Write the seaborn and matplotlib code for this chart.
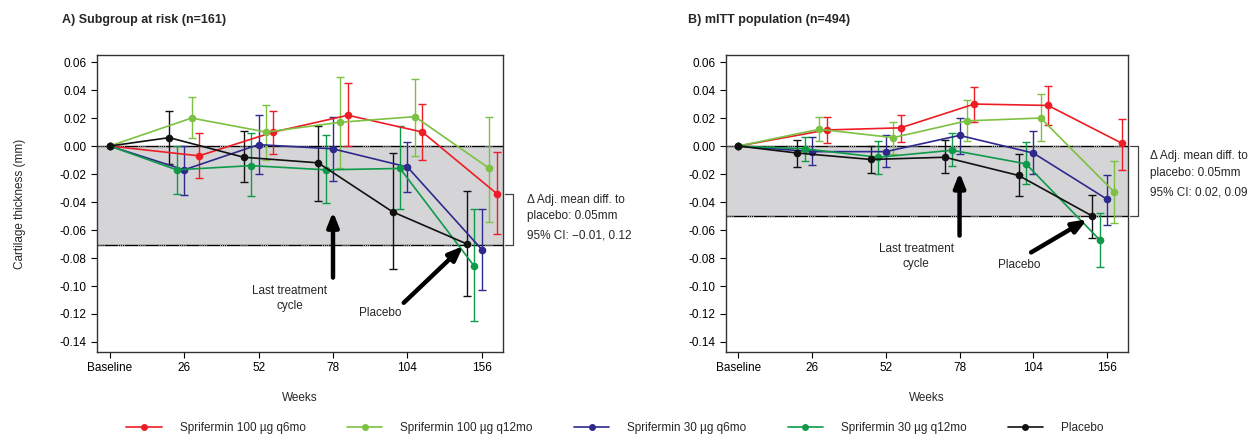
import numpy as np
import pandas as pd
import matplotlib
matplotlib.use("Agg")
import matplotlib.pyplot as plt
import matplotlib.transforms as mtransforms
import seaborn as sns

# x categories
week_labels = ["Baseline", "26", "52", "78", "104", "156"]
groups = ["Sprifermin 100 µg q6mo", "Sprifermin 100 µg q12mo",
          "Sprifermin 30 µg q6mo", "Sprifermin 30 µg q12mo", "Placebo"]
colors = ["#ee1c25", "#7cc142", "#2e2a8c", "#0f9a4a", "#111111"]
dodge = [0.2, 0.1, 0.0, -0.1, -0.2]

# Panel A: subgroup at risk (n=161)
a_mean = {
    groups[0]: [0, -0.007, 0.010, 0.022, 0.010, -0.034],
    groups[1]: [0, 0.020, 0.010, 0.017, 0.021, -0.016],
    groups[2]: [0, -0.017, 0.001, -0.002, -0.015, -0.074],
    groups[3]: [0, -0.017, -0.014, -0.017, -0.016, -0.086],
    groups[4]: [0, 0.006, -0.008, -0.012, -0.047, -0.070],
}
a_lo = {
    groups[0]: [0, -0.023, -0.006, 0.000, -0.010, -0.063],
    groups[1]: [0, 0.006, -0.010, -0.016, -0.007, -0.054],
    groups[2]: [0, -0.035, -0.020, -0.025, -0.033, -0.103],
    groups[3]: [0, -0.034, -0.036, -0.041, -0.045, -0.125],
    groups[4]: [0, -0.013, -0.026, -0.039, -0.088, -0.107],
}
a_hi = {
    groups[0]: [0, 0.009, 0.025, 0.045, 0.030, -0.004],
    groups[1]: [0, 0.035, 0.029, 0.049, 0.048, 0.021],
    groups[2]: [0, 0.000, 0.022, 0.021, 0.003, -0.045],
    groups[3]: [0, 0.000, 0.009, 0.008, 0.014, -0.045],
    groups[4]: [0, 0.025, 0.011, 0.014, -0.005, -0.032],
}

# Panel B: mITT population (n=494)
b_mean = {
    groups[0]: [0, 0.0115, 0.013, 0.030, 0.029, 0.002],
    groups[1]: [0, 0.012, 0.006, 0.018, 0.020, -0.033],
    groups[2]: [0, -0.004, -0.004, 0.0076, -0.005, -0.038],
    groups[3]: [0, -0.002, -0.008, -0.003, -0.0127, -0.067],
    groups[4]: [0, -0.005, -0.0096, -0.008, -0.021, -0.050],
}
b_lo = {
    groups[0]: [0, 0.002, 0.003, 0.017, 0.015, -0.017],
    groups[1]: [0, 0.0036, -0.006, 0.0033, 0.0036, -0.055],
    groups[2]: [0, -0.0136, -0.015, -0.0055, -0.020, -0.0565],
    groups[3]: [0, -0.0105, -0.020, -0.014, -0.027, -0.0864],
    groups[4]: [0, -0.015, -0.019, -0.019, -0.036, -0.0656],
}
b_hi = {
    groups[0]: [0, 0.021, 0.022, 0.0425, 0.043, 0.0195],
    groups[1]: [0, 0.021, 0.017, 0.033, 0.037, -0.011],
    groups[2]: [0, 0.0067, 0.008, 0.020, 0.011, -0.021],
    groups[3]: [0, 0.0067, 0.0033, 0.009, 0.003, -0.048],
    groups[4]: [0, 0.004, 0.000, 0.004, -0.0055, -0.035],
}

sns.set_style("ticks")
plt.rcParams['font.family'] = ['Liberation Sans', 'DejaVu Sans']
plt.rcParams['font.size'] = 8.5

fig = plt.figure(figsize=(12.6, 4.37), dpi=100)
axA = fig.add_axes([0.077, 0.195, 0.322, 0.679])
axB = fig.add_axes([0.576, 0.195, 0.319, 0.679])


def draw_panel(ax, means, los, his, placebo_diff, title, title_x, text_lines,
               text_y, arrow_tc, tc_text, arrow_pl, pl_text, bracket_top,
               text_x):
    ax.axhspan(placebo_diff, 0, color="#d5d5d8", zorder=0, lw=0)
    for yv in (0, placebo_diff):
        ax.axhline(yv, color="black", lw=1.0, zorder=1)
        ax.axhline(yv, color="white", lw=0.6, zorder=1.1,
                   linestyle=(0, (1, 1.5, 1, 1.5, 1, 1.5, 1, 16)))
    rows = []
    for g, off in zip(groups, dodge):
        for i in range(len(week_labels)):
            xi = i + (off if i > 0 else 0)
            rows.append(dict(group=g, x=xi, y=means[g][i],
                             lo=los[g][i], hi=his[g][i]))
    df = pd.DataFrame(rows)
    sns.lineplot(data=df, x="x", y="y", hue="group", hue_order=groups,
                 palette=colors, marker="o", markersize=5.5,
                 markeredgewidth=0, lw=1.2, ax=ax, legend=False,
                 zorder=3, estimator=None, sort=False)
    for g, c in zip(groups, colors):
        d = df[(df.group == g) & (df.x > 0.5)]
        ax.errorbar(d.x, d.y, yerr=[d.y - d.lo, d.hi - d.y], fmt="none",
                    ecolor=c, elinewidth=1.0, capsize=3, capthick=1.0,
                    zorder=2)
    ax.set_xlim(-0.17, 5.28)
    ax.set_ylim(-0.147, 0.065)
    ax.set_xticks(range(len(week_labels)))
    ax.set_xticklabels(week_labels)
    ax.set_yticks(np.arange(-0.14, 0.061, 0.02))
    ax.yaxis.set_major_formatter(matplotlib.ticker.FormatStrFormatter("%.2f"))
    ax.set_xlabel("Weeks", labelpad=13)
    ax.set_ylabel("")
    ax.tick_params(direction="out", length=4, width=0.8, labelsize=8.5,
                   colors="black")
    for s in ax.spines.values():
        s.set_linewidth(1.0)
        s.set_color("#333333")
    ax.text(title_x, 1.118, title, transform=ax.transAxes, fontsize=9,
            fontweight="bold", ha="left", va="center")
    # bracket for adjusted difference
    tr = mtransforms.blended_transform_factory(ax.transAxes, ax.transData)
    ax.plot([1.005, 1.025, 1.025, 1.005],
            [bracket_top, bracket_top, placebo_diff, placebo_diff],
            color="#444444", lw=0.9, transform=tr, clip_on=False)
    for line, yv in zip(text_lines, text_y):
        ax.text(text_x, yv, line, transform=tr, fontsize=8.5,
                ha="left", va="center")
    # arrows
    ax.annotate("", xy=arrow_tc[1], xytext=arrow_tc[0],
                arrowprops=dict(arrowstyle="-|>,head_width=0.4,head_length=1.0",
                                color="black", lw=3.2, shrinkA=0, shrinkB=0))
    ax.text(tc_text[0], tc_text[1], "Last treatment\ncycle", ha="center",
            va="center", fontsize=8.5, linespacing=1.3)
    ax.annotate("", xy=arrow_pl[1], xytext=arrow_pl[0],
                arrowprops=dict(arrowstyle="-|>,head_width=0.4,head_length=1.0",
                                color="black", lw=3.2, shrinkA=0, shrinkB=0))
    ax.text(pl_text[0], pl_text[1], "Placebo", ha="center", va="center",
            fontsize=8.5)


draw_panel(axA, a_mean, a_lo, a_hi, -0.071, "A) Subgroup at risk (n=161)",
           -0.086,
           ["\u0394 Adj. mean diff. to", "placebo: 0.05mm", "95% CI: \u22120.01, 0.12"],
           [-0.0386, -0.050, -0.064],
           ((3.0, -0.094), (3.0, -0.047)), (2.42, -0.109),
           ((3.95, -0.112), (4.75, -0.0715)), (3.64, -0.119),
           -0.034, 1.06)
draw_panel(axB, b_mean, b_lo, b_hi, -0.050, "B) mITT population (n=494)",
           -0.095,
           ["\u0394 Adj. mean diff. to", "placebo: 0.05mm", "95% CI: 0.02, 0.09"],
           [-0.007, -0.019, -0.033],
           ((3.0, -0.064), (3.0, -0.019)), (2.41, -0.079),
           ((3.97, -0.076), (4.73, -0.0524)), (3.81, -0.085),
           0.0, 1.055)

axA.set_ylabel("Cartilage thickness (mm)", fontsize=8.5, labelpad=24)

handles = [matplotlib.lines.Line2D([], [], color=c, marker="o", markersize=5,
                                   markeredgewidth=0, lw=1.2) for c in colors]
fig.legend(handles, groups, loc="center", bbox_to_anchor=(0.488, 0.02),
           ncol=5, frameon=False, fontsize=8.5, handlelength=3,
           columnspacing=3.5, handletextpad=1.5)

fig.savefig("out.png", dpi=100)
